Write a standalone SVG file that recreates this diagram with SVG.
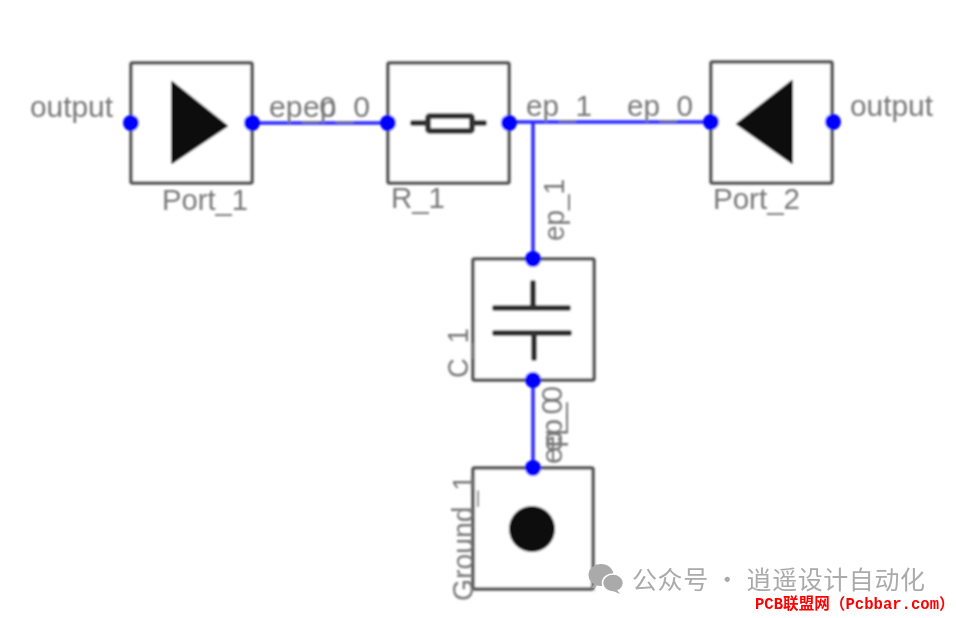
<svg xmlns="http://www.w3.org/2000/svg" width="956" height="618" viewBox="0 0 956 618">
<defs>
<filter id="soft" x="-5%" y="-5%" width="110%" height="110%"><feGaussianBlur stdDeviation="0.8"/></filter>
<filter id="soft2" x="-5%" y="-5%" width="110%" height="110%"><feGaussianBlur stdDeviation="0.4"/></filter>
</defs>
<style>
.box{fill:#fff;stroke:#555;stroke-width:3.5}
.lbl{font-family:"Liberation Sans",Arial,sans-serif;font-size:30px;fill:#777}
.wire{fill:none;stroke:#2a2aff;stroke-width:3.5}
.dot{fill:#0000ff}
.sym{fill:#101010;stroke:#101010;stroke-width:2;stroke-linejoin:round}
.ink{fill:none;stroke:#333;stroke-width:6;stroke-linecap:round}
</style>
<rect width="956" height="618" fill="#fff"/>
<g filter="url(#soft)">
<g id="Port_1">
<rect class="box" x="131" y="63" width="121" height="120" rx="1.5"/>
<polygon class="sym" points="172,82 227,126 172,163"/>
<text class="lbl" x="162" y="210" textLength="86" lengthAdjust="spacingAndGlyphs">Port_1</text>
<text class="lbl" x="30" y="117" textLength="83" lengthAdjust="spacingAndGlyphs">output</text>
</g>
<g id="R_1">
<rect class="box" x="388" y="63" width="121" height="120" rx="1.5"/>
<path class="ink" d="M413,123H427M472,123H484"/>
<rect x="428" y="116" width="44" height="15" fill="none" stroke="#333" stroke-width="6" rx="2"/>
<text class="lbl" x="391" y="208" textLength="54" lengthAdjust="spacingAndGlyphs">R_1</text>
</g>
<g id="Port_2">
<rect class="box" x="711" y="62" width="121" height="121" rx="1.5"/>
<polygon class="sym" points="792,81 737,124 792,163"/>
<text class="lbl" x="713" y="209" textLength="87" lengthAdjust="spacingAndGlyphs">Port_2</text>
<text class="lbl" x="850" y="116" textLength="83" lengthAdjust="spacingAndGlyphs">output</text>
</g>
<g id="C_1">
<rect class="box" x="473" y="259" width="121" height="121" rx="1.5"/>
<path class="ink" d="M495,308H568M495,333H569M533,283V308M534,333V358"/>
<text class="lbl" transform="translate(468,378) rotate(-90)" textLength="50" lengthAdjust="spacingAndGlyphs">C_1</text>
</g>
<g id="Ground_1">
<rect class="box" x="473" y="468" width="120" height="121" rx="1.5"/>
<circle cx="532" cy="529" r="23" fill="#101010"/>
<text class="lbl" transform="translate(473,601) rotate(-90)" textLength="126" lengthAdjust="spacingAndGlyphs">Ground_1</text>
</g>
<g id="connectors">
<path class="wire" d="M252,123H388"/>
<path class="wire" d="M509,122H711"/>
<path class="wire" d="M533,122V259"/>
<path class="wire" d="M533,380V468"/>
<g class="lbl">
<text x="269" y="117" textLength="67" lengthAdjust="spacingAndGlyphs">ep_0</text>
<text x="303" y="117" textLength="67" lengthAdjust="spacingAndGlyphs">ep_0</text>
<text x="526" y="116" textLength="66" lengthAdjust="spacingAndGlyphs">ep_1</text>
<text x="627" y="116" textLength="66" lengthAdjust="spacingAndGlyphs">ep_0</text>
<text transform="translate(564,241) rotate(-90)" textLength="62" lengthAdjust="spacingAndGlyphs">ep_1</text>
<text transform="translate(562,464) rotate(-90)" textLength="66" lengthAdjust="spacingAndGlyphs">ep_0</text>
<text transform="translate(562,452) rotate(-90)" textLength="66" lengthAdjust="spacingAndGlyphs">ep_0</text>
</g>
<g class="dot">
<circle cx="131" cy="123" r="8"/><circle cx="252" cy="123" r="8"/><circle cx="388" cy="123" r="8"/><circle cx="509" cy="123" r="8"/>
<circle cx="711" cy="122" r="8"/><circle cx="833" cy="122" r="8"/>
<circle cx="533" cy="259" r="8"/><circle cx="533" cy="380" r="8"/><circle cx="533" cy="468" r="8"/>
</g>
</g>
</g>
<g id="watermark" filter="url(#soft2)">
<ellipse cx="601" cy="575" rx="12.5" ry="11" fill="#aaa"/>
<path d="M594,584l-3,5 6,-3z" fill="#aaa"/>
<ellipse cx="613" cy="583" rx="10.5" ry="9" fill="#aaa" stroke="#fff" stroke-width="1.5"/>
<path d="M617,590l3,4 -7,-3z" fill="#aaa"/>
<text x="632" y="589" font-family="'Noto Sans CJK SC','Noto Sans',sans-serif" font-size="25" fill="#aaa" textLength="293">公众号 · 逍遥设计自动化</text>
<text x="755" y="609" font-family="'Liberation Mono','Noto Sans CJK SC',monospace" font-size="15.6" font-weight="bold" fill="#ff0000">PCB联盟网（Pcbbar.com）</text>
</g>
</svg>
